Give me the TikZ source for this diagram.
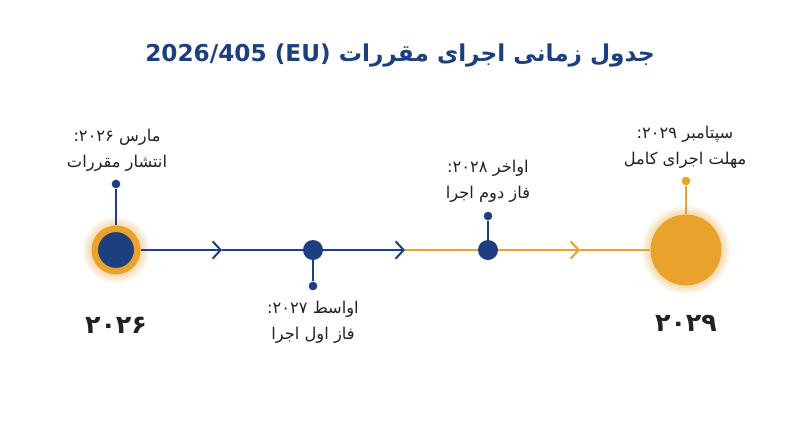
\documentclass[tikz,border=0pt]{standalone}
\usepackage{fontspec}
\usetikzlibrary{arrows.meta}
\TeXXeTstate=1
\newfontfamily\arabicfont[Script=Arabic]{DejaVu Sans}
\definecolor{navy}{HTML}{1D3F7F}
\definecolor{amber}{HTML}{E9A22B}
\definecolor{ink}{HTML}{222222}

\begin{document}
\begin{tikzpicture}[x=0.75pt, y=-0.75pt,
    >={Straight Barb[length=6pt, width=13pt, line width=1.5pt]},
    axis/.style={line width=1.5pt},
    stem/.style={line width=1.5pt},
    stemdot/.style={circle, inner sep=0pt, minimum size=6.5pt, fill=#1},
    ring/.style={circle, inner sep=0pt, minimum size=31.9pt, fill=navy, draw=amber, line width=4.9pt},
    sun/.style={circle, inner sep=0pt, minimum size=53.2pt, fill=amber},
    bead/.style={circle, inner sep=0pt, minimum size=15pt, fill=navy},
    eventtext/.style={align=center, text=ink, font=\arabicfont\fontsize{12.2}{19.5}\selectfont},
    yeartext/.style={text=ink, font=\arabicfont\bfseries\fontsize{19}{24}\selectfont},
    heading/.style={text=navy, font=\arabicfont\bfseries\fontsize{17.4}{22}\selectfont}]
    \fill[white] (0, 0) rectangle (800, 447);
    \useasboundingbox (0, 0) rectangle (800, 447);

    \node[heading] (title) at (400, 56) {\beginR جدول زمانی اجرای مقررات \beginL 2026/405 (EU)\endL\endR};

    % glow
    \foreach \r in {1,...,9} {
      \fill[amber, opacity=0.045] (116, 250) circle ({24.5 + \r});
      \fill[amber, opacity=0.045] (686, 250) circle ({35.5 + \r});
    }

    \node[ring] (start) at (116, 250) {};
    \node[bead] (phase1) at (313, 250) {};
    \node[bead] (phase2) at (488, 250) {};
    \node[sun] (final) at (686, 250) {};

    \coordinate (tip1) at (222, 250);
    \coordinate (tip2) at (405, 250);
    \coordinate (tip3) at (580, 250);

    \draw[navy, axis, ->] (start) -- (tip1);
    \draw[navy, axis] (tip1) -- (phase1);
    \draw[navy, axis, ->] (phase1) -- (tip2);
    \draw[amber, axis] (tip2) -- (phase2);
    \draw[amber, axis, ->] (phase2) -- (tip3);
    \draw[amber, axis] (tip3) -- (final);

    \node[stemdot=navy] (startpin) at (116, 184) {};
    \node[stemdot=navy] (phase1pin) at (313, 286) {};
    \node[stemdot=navy] (phase2pin) at (488, 216) {};
    \node[stemdot=amber] (finalpin) at (686, 181) {};
    \draw[navy, stem] (start) -- (startpin);
    \draw[navy, stem] (phase1) -- (phase1pin);
    \draw[navy, stem] (phase2) -- (phase2pin);
    \draw[amber, stem] (final) -- (finalpin);

    \node[eventtext] (startlbl) at (117, 150) {\beginR مارس ۲۰۲۶\kern0pt:\endR\\\beginR انتشار مقررات\endR};
    \node[eventtext] (phase1lbl) at (313, 322) {\beginR اواسط ۲۰۲۷\kern0pt:\endR\\\beginR فاز اول اجرا\endR};
    \node[eventtext] (phase2lbl) at (488, 181) {\beginR اواخر ۲۰۲۸\kern0pt:\endR\\\beginR فاز دوم اجرا\endR};
    \node[eventtext] (finallbl) at (685, 147) {\beginR سپتامبر ۲۰۲۹\kern0pt:\endR\\\beginR مهلت اجرای کامل\endR};

    \node[yeartext] (startyear) at (116, 325) {۲۰۲۶};
    \node[yeartext] (finalyear) at (686, 323) {۲۰۲۹};
\end{tikzpicture}
\end{document}
